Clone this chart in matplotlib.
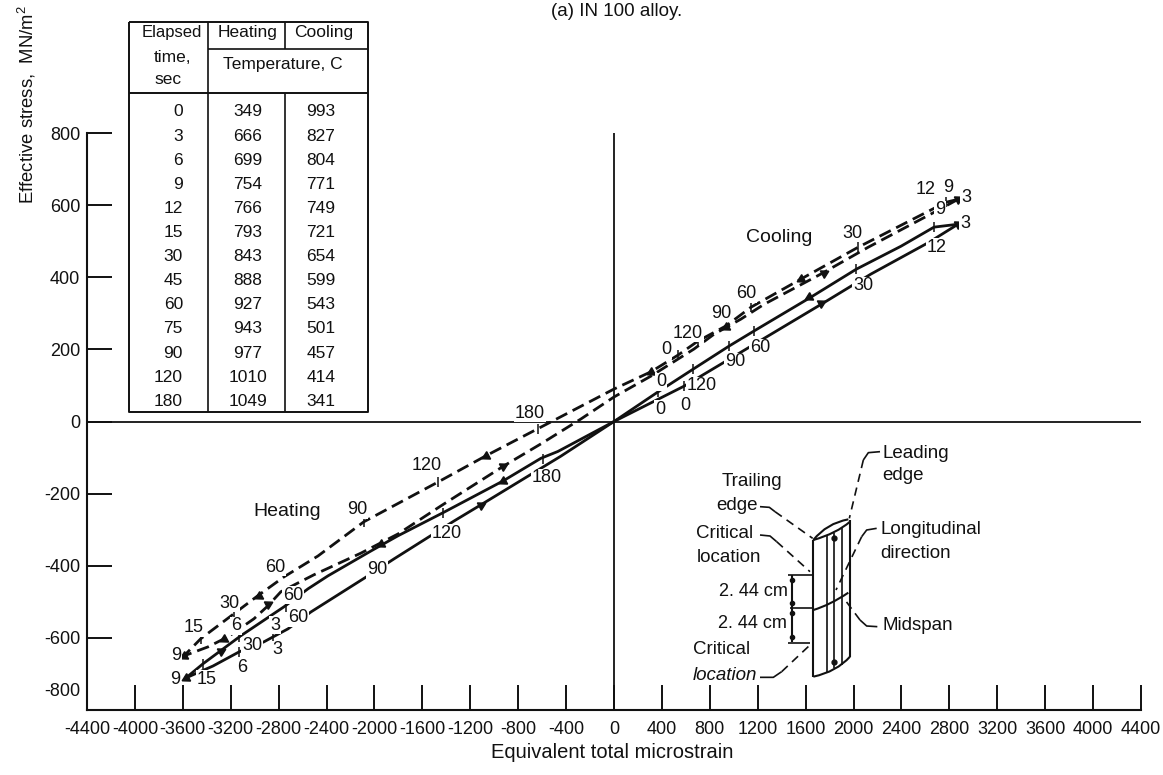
import matplotlib
matplotlib.use('Agg')
import matplotlib.pyplot as plt
from matplotlib.patches import PathPatch
from matplotlib.path import Path

plt.rcParams['font.family'] = ['Liberation Sans', 'DejaVu Sans']
plt.rcParams['mathtext.default'] = 'regular'

W, H = 1163, 775
INK = '#111111'

# hysteresis loops: microstrain, stress
dash_upper_x = [2872, 2772, 2037, 1561, 1144, 935, 701, 534, 309, 0, -526, -1069, -1470, -2088, -2472, -2756, -2973, -3173, -3449, -3591]
dash_upper_y = [616, 608, 483, 395, 317, 265, 223, 184, 138, 90, -1, -95, -168, -278, -373, -431, -483, -533, -602, -650]
dash_lower_x = [2872, 2672, 2121, 1728, 1253, 1060, 835, 668, 309, 0, -276, -610, -919, -1445, -1804, -2113, -2505, -2781, -2889, -3006, -3223, -3390, -3591]
dash_lower_y = [616, 580, 483, 409, 325, 284, 242, 201, 126, 68, 7, -62, -123, -234, -312, -365, -425, -472, -511, -547, -597, -625, -650]
solid_upper_x = [2872, 2672, 2396, 2021, 1645, 1169, 960, 660, 367, 0, -468, -610, -927, -1428, -1804, -2029, -2388, -2555, -2756, -3115, -3432, -3574]
solid_upper_y = [547, 539, 486, 422, 345, 251, 209, 145, 82, 0, -83, -102, -165, -253, -317, -359, -428, -464, -514, -594, -672, -711]
solid_lower_x = [2872, 2630, 2146, 1745, 1286, 585, 0, -443, -1111, -1336, -1837, -2054, -2530, -2722, -2923, -3131, -3348, -3574]
solid_lower_y = [547, 497, 409, 328, 237, 98, 0, -96, -231, -276, -381, -428, -528, -575, -611, -639, -678, -711]

# time ticks and direction arrows on the loops
tick_x = [2037, 1144, 701, 534, 2772, 2672, 2021, 1169, 960, 660, 367, 585, -635, -1470, -2088, -593, -1428, -3173, -3449, -2739, -3131, -3432, -2847, -3131]
tick_y = [483, 317, 223, 184, 608, 539, 422, 251, 209, 145, 82, 98, -21, -168, -278, -104, -253, -533, -602, -514, -597, -672, -597, -639]
arrow_up_x = [1728, 1753, -927, -1111, -2889, -3282, 2872, 2872]
arrow_up_y = [328, 411, -123, -231, -506, -636, 547, 616]
arrow_down_x = [1628, 1561, 935, 309, -1069, -927, -2964, -3257, -1946, -3591, -3574]
arrow_down_y = [345, 395, 262, 137, -95, -165, -483, -602, -339, -650, -711]

x_ticks = [-4400, -4000, -3600, -3200, -2800, -2400, -2000, -1600, -1200, -800, -400, 0, 400, 800, 1200, 1600, 2000, 2400, 2800, 3200, 3600, 4000, 4400]
y_ticks = [-800, -600, -400, -200, 0, 200, 400, 600, 800]

# table
elapsed = [0, 3, 6, 9, 12, 15, 30, 45, 60, 75, 90, 120, 180]
heating = [349, 666, 699, 754, 766, 793, 843, 888, 927, 943, 977, 1010, 1049]
cooling = [993, 827, 804, 771, 749, 721, 654, 599, 543, 501, 457, 414, 341]

# elapsed time labels along the curves, picture pixels
time_labels = [('12', 926, 190), ('9', 948, 187), ('3', 966, 197), ('9', 940, 210), ('3', 965, 223), ('12', 937, 247),
               ('30', 852, 233), ('30', 863, 286), ('60', 746, 294), ('90', 721, 313), ('120', 688, 333), ('0', 666, 350),
               ('0', 661, 382), ('0', 660, 409), ('0', 685, 405), ('120', 702, 386), ('90', 735, 362), ('60', 760, 348),
               ('180', 530, 413), ('180', 547, 478), ('120', 427, 465), ('120', 447, 533), ('90', 357, 510),
               ('60', 275, 567), ('60', 293, 595), ('90', 377, 570), ('60', 298, 618), ('30', 229, 603), ('6', 236, 626),
               ('3', 275, 625), ('30', 252, 646), ('3', 277, 650), ('15', 194, 628), ('9', 176, 656), ('9', 175, 680),
               ('15', 207, 679), ('6', 242, 668)]

fig = plt.figure(figsize=(W / 100, H / 100), dpi=100, facecolor='white')

# main axes, placed so the frame lands where the scanned one is
left, right, top, bottom = 87, 1141, 133, 710
ax = fig.add_axes([left / W, 1 - bottom / H, (right - left) / W, (bottom - top) / H])
ax.set_xlim(-4400, 4400)
ax.set_ylim(-800, 800)
ax.patch.set_visible(False)
for s in ['top', 'right']:
    ax.spines[s].set_visible(False)
for s in ['left', 'bottom']:
    ax.spines[s].set_linewidth(1.5)
    ax.spines[s].set_color(INK)

ax.set_xticks(x_ticks)
ax.set_xticklabels([str(v) for v in x_ticks])
ax.set_yticks(y_ticks)
ax.set_yticklabels(['' if v == -800 else str(v) for v in y_ticks])
ax.tick_params(axis='x', direction='in', length=18, width=1.4, color=INK, labelsize=13, labelcolor=INK, pad=8)
ax.tick_params(axis='y', direction='in', length=18, width=1.4, color=INK, labelsize=13, labelcolor=INK, pad=5)
ax.annotate('-800', xy=(-4400, -800), xytext=(-5, 7), textcoords='offset points', ha='right', va='bottom',
            fontsize=13, color=INK)
ax.axhline(0, color=INK, lw=1.3)
ax.axvline(0, color=INK, lw=1.3)

ax.plot(solid_upper_x, solid_upper_y, color=INK, lw=2)
ax.plot(solid_lower_x, solid_lower_y, color=INK, lw=2)
ax.plot(dash_upper_x, dash_upper_y, color=INK, lw=2, linestyle=(0, (4.5, 2.2)))
ax.plot(dash_lower_x, dash_lower_y, color=INK, lw=2, linestyle=(0, (4.5, 2.2)))
ax.plot(tick_x, tick_y, linestyle='none', marker='|', ms=7, mew=1.1, color=INK)
ax.plot(arrow_up_x, arrow_up_y, linestyle='none', marker=(3, 0, -62), ms=7, color=INK)
ax.plot(arrow_down_x, arrow_down_y, linestyle='none', marker=(3, 0, 118), ms=7, color=INK)

# overlay in picture pixels for the table, sketch and notes
ov = fig.add_axes([0, 0, 1, 1])
ov.set_xlim(0, W)
ov.set_ylim(H, 0)
ov.axis('off')
ov.patch.set_visible(False)


def note(s, x, y, size=13, ha='center', **kw):
    ov.text(x, y, s, fontsize=size, ha=ha, va='center', color=INK, **kw)


def line(xs, ys, lw=1.3, **kw):
    ov.plot(xs, ys, color=INK, lw=lw, solid_capstyle='butt', **kw)


def sketch_x(z):
    return z / 3 + 680


def sketch_y(z):
    return z / 3 + 430


def sline(zx, zy, lw=1.2, **kw):
    line([sketch_x(v) for v in zx], [sketch_y(v) for v in zy], lw=lw, **kw)


def scurve(p0, p1, p2, lw=1.2):
    verts = [(sketch_x(p[0]), sketch_y(p[1])) for p in (p0, p1, p2)]
    ov.add_patch(PathPatch(Path(verts, [Path.MOVETO, Path.CURVE3, Path.CURVE3]), fill=False, ec=INK, lw=lw))


for s, x, y in time_labels:
    ov.text(x, y, s, fontsize=13, ha='center', va='center', color=INK,
            bbox=dict(fc='white', ec='none', pad=0.4))

note('Cooling', 779, 238, size=14)
note('Heating', 287, 512, size=14)
note('(a) IN 100 alloy.', 617, 12, size=13.5)
note('Equivalent total microstrain', 612, 752, size=14.5)
ov.text(27, 105, 'Effective stress,  MN/m$^2$', fontsize=13.3, rotation=90, ha='center', va='center', color=INK)

# table
t_left, t_c1, t_c2, t_right = 129, 208, 285, 368
t_top, t_mid, t_head, t_bot = 22, 49, 93, 412
line([t_left, t_right, t_right, t_left, t_left], [t_top, t_top, t_bot, t_bot, t_top], lw=1.4)
line([t_left, t_right], [t_head, t_head], lw=1.4)
line([t_c1, t_right], [t_mid, t_mid], lw=1.2)
line([t_c1, t_c1], [t_top, t_bot], lw=1.2)
line([t_c2, t_c2], [t_top, t_mid], lw=1.2)
line([t_c2, t_c2], [t_head, t_bot], lw=1.2)
note('Elapsed', 172, 33, size=12)
note('time,', 172, 57, size=12.5)
note('sec', 168, 80, size=12.5)
note('Heating', 248, 33, size=12.5)
note('Cooling', 324, 33, size=12.5)
note('Temperature, C', 283, 64, size=12.5)
for i in range(len(elapsed)):
    y = 112 + 24.1 * i
    note(str(elapsed[i]), 183, y, size=12.5, ha='right')
    note(str(heating[i]), 248, y, size=12.5)
    note(str(cooling[i]), 321, y, size=12.5)

# blade sketch, coordinates from the 3x crop
sline([400, 400], [330, 740], lw=1.5)
sline([510, 510], [270, 680], lw=1.5)
sline([440, 440], [318, 725])
sline([485, 485], [295, 705])
sline([462, 462], [310, 715])
scurve((400, 330), (440, 280), (505, 268), lw=1.5)
scurve((400, 330), (470, 310), (510, 275), lw=1.5)
scurve((400, 740), (470, 725), (510, 680), lw=1.5)
scurve((400, 540), (450, 525), (505, 488), lw=1.5)
sline([335, 335], [435, 635], lw=1.5)
sline([325, 395], [435, 435])
sline([330, 395], [535, 535])
sline([325, 390], [638, 638])
ov.plot([sketch_x(462), sketch_x(462)], [sketch_y(325), sketch_y(695)], ls='none', marker='o', ms=3.5, color=INK)
ov.plot([sketch_x(335)] * 4, [sketch_y(v) for v in (450, 520, 550, 622)], ls='none', marker='o', ms=3, color=INK)

dash = (0, (5, 3.5))
sline([600, 565, 550], [65, 68, 90])
sline([550, 508], [90, 265], ls=dash)
sline([240, 268, 285], [230, 232, 245])
sline([285, 398], [245, 325], ls=dash)
sline([240, 270, 290], [315, 318, 335])
sline([290, 390], [335, 425], ls=dash)
sline([590, 560, 545], [295, 300, 320])
sline([545, 468], [320, 480], ls=dash)
sline([592, 560, 540], [590, 588, 570])
sline([540, 490], [570, 503], ls=dash)
sline([240, 280, 305], [742, 742, 725])
sline([305, 390], [725, 645], ls=dash)

note('Leading', 882, 453, size=13.5, ha='left')
note('edge', 882, 475, size=13.5, ha='left')
note('Trailing', 752, 482, size=13.5)
note('edge', 737, 506, size=13.5)
note('Critical', 725, 534, size=13.5)
note('location', 729, 558, size=13.5)
note('2. 44 cm', 753, 591, size=13)
note('2. 44 cm', 752, 623, size=13)
note('Critical', 722, 650, size=13.5)
note('location', 725, 675, size=13.5, style='italic')
note('Longitudinal', 880, 530, size=13.5, ha='left')
note('direction', 880, 553, size=13.5, ha='left')
note('Midspan', 882, 626, size=13.5, ha='left')

plt.savefig('out.png', dpi=100, facecolor='white')
